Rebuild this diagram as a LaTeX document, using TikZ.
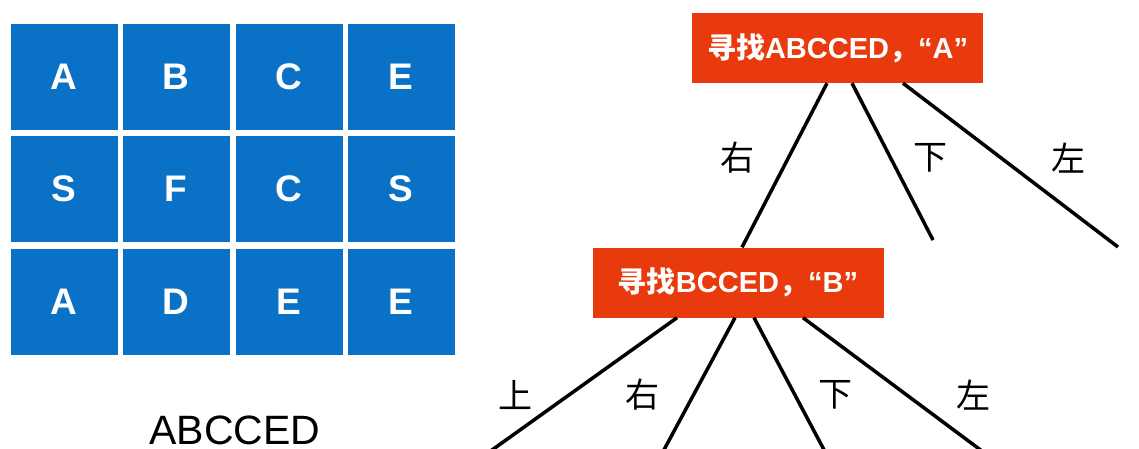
\documentclass[tikz,border=0pt]{standalone}
\usepackage{fontspec}
\setmainfont{Liberation Sans}
\newfontfamily\cjk{Noto Sans CJK SC}
\definecolor{cellblue}{RGB}{10,114,198}
\definecolor{findred}{RGB}{232,58,12}

\begin{document}
\begin{tikzpicture}[x=1pt,y=-1pt,
	cell/.style={fill=cellblue,text=white,font=\bfseries\fontsize{37}{37}\selectfont,minimum width=107pt,minimum height=106pt,inner sep=0pt},
	findbox/.style={fill=findred,text=white,font=\bfseries\fontsize{29}{29}\selectfont,minimum width=291pt,minimum height=70pt,inner sep=0pt},
	dir/.style={font=\cjk\fontsize{34}{34}\selectfont,inner sep=0pt},
	branch/.style={line width=3.5pt,black}]
	      	\useasboundingbox (0,0) rectangle (1139,448);
	      	\node[cell] (a11) at (64,77) {A};
	      	\node[cell] (a12) at (176,77) {B};
	      	\node[cell] (a13) at (289,77) {C};
	      	\node[cell] (a14) at (401,77) {E};
	      	\node[cell] (a21) at (64,189) {S};
	      	\node[cell] (a22) at (176,189) {F};
	      	\node[cell] (a23) at (289,189) {C};
	      	\node[cell] (a24) at (401,189) {S};
	      	\node[cell] (a31) at (64,302) {A};
	      	\node[cell] (a32) at (176,302) {D};
	      	\node[cell] (a33) at (289,302) {E};
	      	\node[cell] (a34) at (401,302) {E};
	      	\node[anchor=base,font=\fontsize{41}{41}\selectfont,inner sep=0pt] (word) at (235,444.5) {ABCCED};
	      	\node[findbox] (find1) at (837.5,48) {{\cjk 寻找}ABCCED{\cjk ，}“A”};
	      	\node[findbox] (find2) at (738,282.5) {{\cjk 寻找}BCCED{\cjk ，}“B”};
	      	\coordinate (end1) at (933,240);
	      	\coordinate (end2) at (1118,247);
	      	\coordinate (leaf1) at (478,460);
	      	\coordinate (leaf2) at (658.5,460);
	      	\coordinate (leaf3) at (829.4,460);
	      	\coordinate (leaf4) at (994,460);
	      	\draw[branch] ([xshift=-10.5pt]find1.south) -- ([xshift=4pt]find2.north);
	      	\draw[branch] ([xshift=14.5pt]find1.south) -- (end1);
	      	\draw[branch] ([xshift=65.5pt]find1.south) -- (end2);
	      	\draw[branch] ([xshift=-61pt]find2.south) -- (leaf1);
	      	\draw[branch] ([xshift=-3pt]find2.south) -- (leaf2);
	      	\draw[branch] ([xshift=16pt]find2.south) -- (leaf3);
	      	\draw[branch] ([xshift=65pt]find2.south) -- (leaf4);
	      	\node[dir] (r1) at (737,158) {右};
	      	\node[dir] (d1) at (930,158) {下};
	      	\node[dir] (l1) at (1068,158) {左};
	      	\node[dir] (u2) at (515,395) {上};
	      	\node[dir] (r2) at (642,395) {右};
	      	\node[dir] (d2) at (835,395) {下};
	      	\node[dir] (l2) at (973,395) {左};
	      \end{tikzpicture}
\end{document}
